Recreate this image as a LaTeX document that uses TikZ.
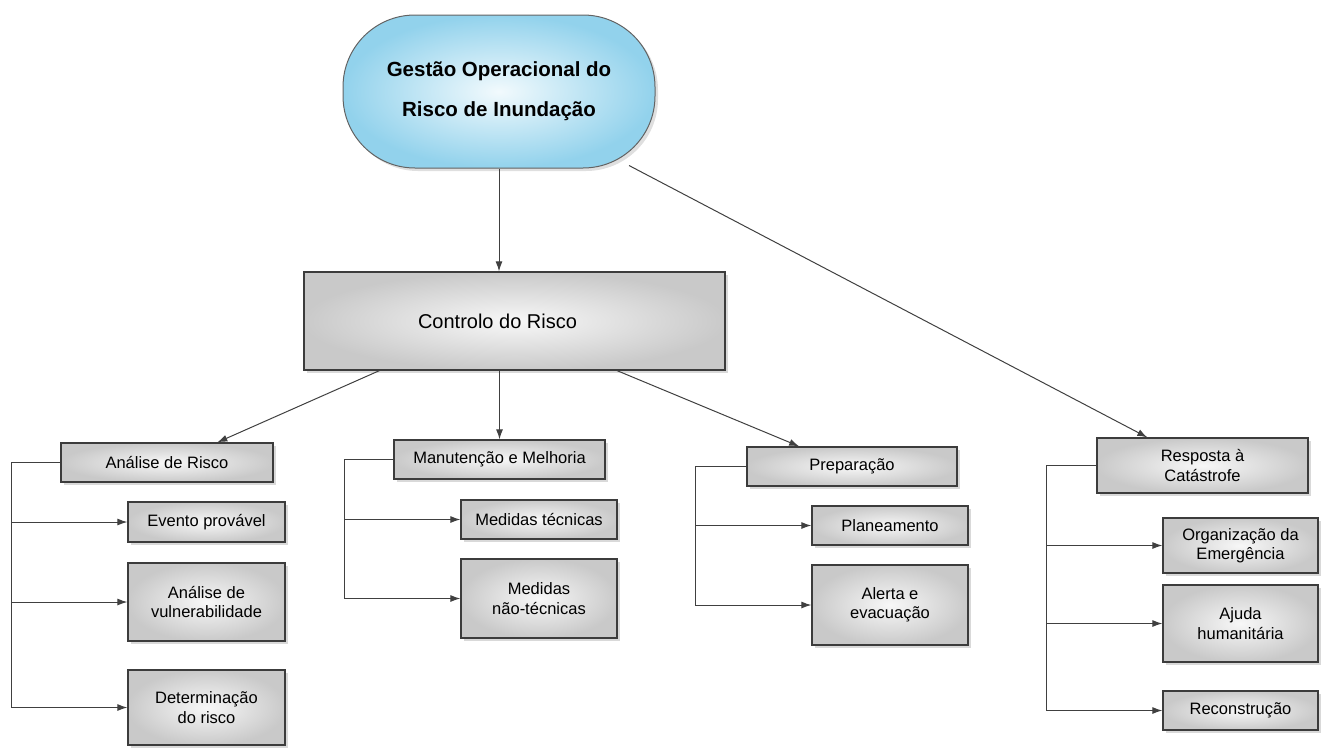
\documentclass[tikz,border=0pt]{standalone}
\usepackage{fontspec}
\setmainfont{Liberation Sans}
\usetikzlibrary{shadows,arrows.meta,calc}
\definecolor{lineg}{HTML}{404040}
\definecolor{boxborder}{HTML}{3C3C3C}
\definecolor{skyin}{HTML}{F2FAFD}
\definecolor{skyout}{HTML}{92D2EC}
\tikzset{
  gbox/.style={draw=boxborder, line width=1.3pt, shading=radial,
    inner color=gray!6, outer color=gray!42,
    drop shadow={shadow xshift=3pt, shadow yshift=-3pt, opacity=0.3},
    font=\fontsize{16.5}{19.5}\selectfont, align=center, inner sep=2pt},
  topbox/.style={draw=boxborder!80, line width=1pt, rounded corners=72pt,
    shading=radial, inner color=skyin, outer color=skyout,
    drop shadow={shadow xshift=3pt, shadow yshift=-3pt, opacity=0.25},
    font=\bfseries\fontsize{20.5}{40}\selectfont, align=center},
  arr/.style={draw=lineg, line width=1pt, -{Latex[length=10pt,width=7pt]}},
  plain/.style={draw=lineg, line width=1pt}
}
\begin{document}
\begin{tikzpicture}[x=1pt,y=-1pt]
\useasboundingbox (0,0) rectangle (1324,747);
% top
\node[topbox, minimum width=312pt, minimum height=153pt] (top) at (499,91.5)
  {Gestão Operacional do\\Risco de Inundação};
\node[gbox, minimum width=421pt, minimum height=98pt, font=\fontsize{20}{24}\selectfont] (ctrl) at (514.5,321)
  {\hspace*{-34pt}Controlo do Risco};
% level 2
\node[gbox, minimum width=212pt, minimum height=39pt] (ana) at (167,462.5) {Análise de Risco};
\node[gbox, minimum width=211pt, minimum height=39pt] (man) at (499.5,459.5) {Manutenção e Melhoria};
\node[gbox, minimum width=210pt, minimum height=39pt] (prep) at (852,466.5) {Preparação};
\node[gbox, minimum width=211pt, minimum height=55pt] (resp) at (1202.5,465.5) {Resposta à\\Catástrofe};
% level 3
\node[gbox, minimum width=157pt, minimum height=40pt] (ev) at (206.5,522) {Evento provável};
\node[gbox, minimum width=157pt, minimum height=78pt] (vul) at (206.5,602) {Análise de\\vulnerabilidade};
\node[gbox, minimum width=157pt, minimum height=75pt] (det) at (206.5,707.5) {Determinação\\do risco};
\node[gbox, minimum width=156pt, minimum height=39pt] (mt) at (539,519.5) {Medidas técnicas};
\node[gbox, minimum width=156pt, minimum height=79pt] (mnt) at (539,598.5) {Medidas\\não-técnicas};
\node[gbox, minimum width=156pt, minimum height=39pt] (plan) at (890,525.5) {Planeamento};
\node[gbox, minimum width=156pt, minimum height=80pt] (alert) at (890,605) {Alerta e\\evacuação};
\node[gbox, minimum width=155pt, minimum height=55pt] (org) at (1240.5,545.5) {Organização da\\Emergência};
\node[gbox, minimum width=155pt, minimum height=77pt] (aju) at (1240.5,623.5) {Ajuda\\humanitária};
\node[gbox, minimum width=155pt, minimum height=39pt] (rec) at (1240.5,710.5) {Reconstrução};
% top connectors
\draw[arr] (top.south) -- (top.south |- ctrl.north);
\coordinate (topr) at ($(top.south)+(130,-3)$);
\draw[arr] (topr) -- ($(resp.north west)!0.24!(resp.north east)$);
% control connectors
\draw[arr] ($(ctrl.south west)!0.18!(ctrl.south east)$) -- ($(ana.north west)!0.736!(ana.north east)$);
\draw[arr] (man.north |- ctrl.south) -- (man.north);
\draw[arr] ($(ctrl.south west)!0.743!(ctrl.south east)$) -- ($(prep.north west)!0.25!(prep.north east)$);
% brackets
\coordinate (b1) at (11,0);
\draw[plain] (ana.west) -| (b1 |- det.west);
\draw[arr] (b1 |- ev.west) -- (ev.west);
\draw[arr] (b1 |- vul.west) -- (vul.west);
\draw[arr] (b1 |- det.west) -- (det.west);
\coordinate (b2) at (344,0);
\draw[plain] (man.west) -| (b2 |- mnt.west);
\draw[arr] (b2 |- mt.west) -- (mt.west);
\draw[arr] (b2 |- mnt.west) -- (mnt.west);
\coordinate (b3) at (695,0);
\draw[plain] (prep.west) -| (b3 |- alert.west);
\draw[arr] (b3 |- plan.west) -- (plan.west);
\draw[arr] (b3 |- alert.west) -- (alert.west);
\coordinate (b4) at (1046,0);
\draw[plain] (resp.west) -| (b4 |- rec.west);
\draw[arr] (b4 |- org.west) -- (org.west);
\draw[arr] (b4 |- aju.west) -- (aju.west);
\draw[arr] (b4 |- rec.west) -- (rec.west);
\end{tikzpicture}
\end{document}
